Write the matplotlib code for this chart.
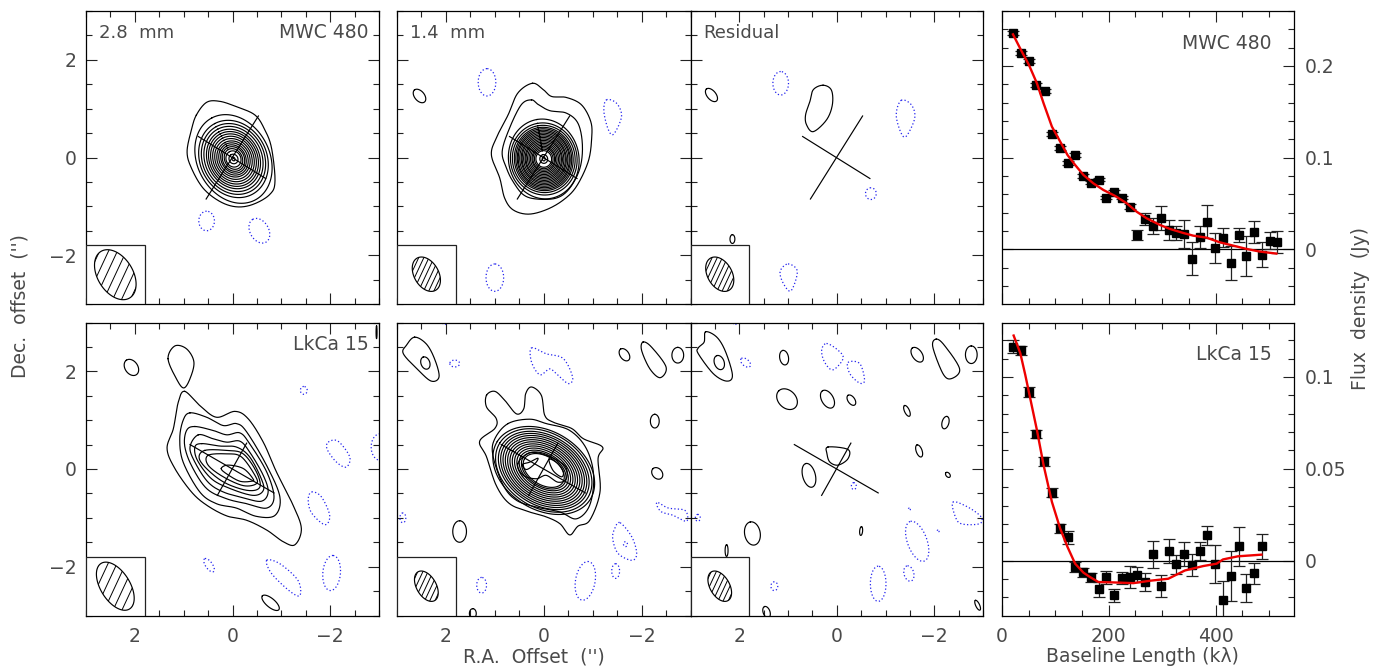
import numpy as np
import matplotlib
matplotlib.use("Agg")
import matplotlib.pyplot as plt
from matplotlib.patches import Polygon, Rectangle
from matplotlib.ticker import MultipleLocator

plt.rcParams['font.family'] = ['DejaVu Sans']
TEXT = '#4a4a4a'
LW = 0.85

# ---------- visibility data ----------
mwc_u = [20.6,35.5,50.5,64,80,93.5,108,123,137,151,166,181,195,210,225,240,253,268,283,298,313,326,341,356,371,384,399,414,429,444,457,472,487,502,515]
mwc_f = [.236,.2145,.2055,.1796,.173,.1258,.1105,.094,.103,.080,.0727,.076,.0564,.0625,.0564,.0465,.0156,.0327,.0255,.034,.021,.0178,.0167,-.0105,.0138,.0298,.0015,.0127,-.015,.0156,-.0073,.0193,-.006,.0095,.008]
mwc_e = [.002,.002,.002,.002,.002,.002,.002,.002,.002,.002,.002,.002,.002,.002,.002,.003,.005,.0065,.009,.0135,.011,.0073,.0155,.018,.012,.018,.016,.0102,.0185,.008,.0218,.012,.0138,.009,.0116]
mwc_model_u = [20.6,35.5,50.5,65.4,77.9,93.5,109,122.7,137,152.6,171,190,212,233.6,252,271,296,314.6,339.6,358,383,408,433,458,483,514]
mwc_model_f = [.2345,.2175,.2011,.1811,.1593,.1338,.1175,.1029,.092,.0811,.072,.0647,.0582,.0502,.0411,.0338,.0265,.0222,.0178,.0149,.0127,.0076,.004,.0004,-.0025,-.0047]

lk_u = [20.6,35.5,50.5,64,79,94,108,123,137,152,167,182,195,210,225,240,253,268,283,298,313,326,341,356,371,384,399,414,429,444,457,472,487]
lk_f = [.1165,.1144,.0918,.0687,.054,.0369,.0176,.0127,-.0033,-.0062,-.0091,-.0156,-.0091,-.0189,-.0093,-.0091,-.0075,-.0116,.0035,-.014,.0051,-.002,.0036,-.0022,.0053,.0138,-.0018,-.0211,-.0084,.0078,-.0149,-.0069,.0078]
lk_e = [.0035,.0024,.0026,.0022,.0022,.0024,.0024,.0036,.0027,.0025,.0025,.004,.0033,.0035,.0033,.006,.004,.005,.0073,.006,.0065,.005,.0065,.006,.0051,.0053,.0102,.01,.0136,.0105,.0075,.0055,.0069]
lk_model_u = [21.8,34.3,43.6,54.2,65.4,77.9,93.5,109,122.7,137,152.6,165,180.7,208.7,246,277,311.5,342.7,377,402,414,442,486]
lk_model_f = [.1225,.1129,.1011,.0865,.0711,.052,.032,.0175,.0075,-.0016,-.0065,-.0089,-.0116,-.0118,-.0122,-.0109,-.0098,-.0053,-.0029,-.0016,.0007,.0024,.0033]

# ---------- cross axes (arcsec) ----------
cross_mwc = [((.70,.43),(-.68,-.43)), ((-.53,.85),(.54,-.85))]
cross_lk = [((.87,.50),(-.85,-.49)), ((-.29,.53),(.31,-.54))]

# ---------- MWC 480, 2.8 mm ----------
p1_out = [[(.74,.87),(.53,1.13),(.26,1.15),(-.08,1.04),(-.46,.87),(-.66,.57),(-.80,.19),(-.87,-.49),(-.76,-.76),(-.42,-.96),(-.08,-1.01),(.26,-.90),(.60,-.63),(.84,-.22),(.93,.12),(.84,.57)]]
p1_rings = [(.95,.74),(.82,.68),(.75,.63),(.69,.58),(.63,.53),(.58,.49),(.53,.45),(.48,.41),(.43,.37),(.38,.33),(.34,.29),(.30,.25),(.26,.22),(.22,.18),(.17,.15),(.10,.09),(.04,.03)]
p1_blue = [(.53,-1.30,.20,.16,0),(-.55,-1.50,.27,.19,30)]

# ---------- MWC 480, 1.4 mm ----------
p2_out = [
 [(.23,1.52),(.01,1.39),(-.16,1.25),(-.46,1.23),(-.77,1.08),(-.96,.74),(-.98,.40),(-.91,-.08),(-.67,-.59),(-.40,-.87),(-.05,-1.07),(.32,-1.16),(.63,-1.07),(.80,-.83),(.90,-.42),(1.07,.05),(.97,.40),(.73,.87),(.53,1.32)],
 [(.25,1.18),(.12,1.09),(-.12,.96),(-.46,.91),(-.70,.70),(-.79,.26),(-.74,-.22),(-.53,-.63),(-.26,-.83),(.15,-.85),(.42,-.76),(.63,-.49),(.76,-.22),(.85,.12),(.70,.60),(.46,1.08)],
]
p2_rings = [(.82,.72),(.74,.68),(.69,.64),(.65,.60),(.62,.57),(.59,.54),(.56,.52),(.53,.49),(.50,.46),(.47,.44),(.44,.41),(.41,.38),(.38,.36),(.35,.33),(.32,.30),(.29,.27),(.26,.24),(.23,.22),(.20,.19),(.17,.16),(.09,.08),(.04,.03)]
p2_black = [(2.54,1.26,.16,.10,40)]
p2_blue_poly = [[(-1.28,1.18),(-1.49,1.11),(-1.59,.84),(-1.43,.48),(-1.32,.57),(-1.23,.94)]]
p2_blue = [(1.16,1.54,.28,.18,0),(1.0,-2.46,.28,.18,0)]

# ---------- MWC 480, residual ----------
p3_out = [[(.28,1.48),(.11,1.38),(.09,1.08),(.21,.77),(.48,.53),(.62,.67),(.64,.87),(.55,1.15),(.48,1.39)]]
p3_black = [(2.57,1.28,.16,.09,40),(2.14,-1.67,.09,.05,0)]
p3_blue_poly = [[(-1.32,1.17),(-1.53,1.08),(-1.60,.81),(-1.43,.44),(-1.32,.50),(-1.22,.87)],
                [(1.0,-2.18),(.81,-2.33),(.94,-2.73),(1.10,-2.57),(1.16,-2.33)]]
p3_blue = [(1.15,1.52,.24,.16,0),(-.70,-.74,.12,.11,0)]

# ---------- LkCa 15, 2.8 mm ----------
p4_out = [
 [(.98,1.59),(.67,1.30),(.33,1.06),(-.05,1.18),(-.32,1.03),(-.63,.55),(-.90,-.06),(-1.24,-.74),(-1.41,-1.22),(-1.28,-1.55),(-1.04,-1.49),(-.70,-1.25),(-.29,-1.05),(.12,-.96),(.53,-.74),(.84,-.47),(1.18,.01),(1.34,.42),(1.21,.83),(1.11,1.37)],
 [(.87,1.15),(.53,1.06),(.19,.89),(-.08,.93),(-.29,.76),(-.70,.07),(-.97,-.57),(-.87,-.95),(-.49,-.97),(-.08,-.80),(.33,-.71),(.67,-.47),(1.01,.14),(1.08,.62),(1.01,1.0)],
 [(.77,.87),(.40,.79),(.12,.70),(-.15,.74),(-.35,.52),(-.70,-.06),(-.85,-.57),(-.70,-.80),(-.29,-.71),(.12,-.61),(.53,-.40),(.84,.07),(.98,.48),(.94,.79)],
 [(.70,.70),(.40,.62),(.12,.55),(-.15,.57),(-.35,.35),(-.63,-.13),(-.73,-.47),(-.59,-.66),(-.22,-.59),(.19,-.47),(.50,-.27),(.77,.14),(.87,.45)],
 [(.63,.52),(.26,.47),(-.08,.45),(-.35,.25),(-.59,-.20),(-.63,-.44),(-.42,-.54),(.05,-.40),(.43,-.20),(.72,.18),(.77,.45)],
 [(.57,.38),(.12,.38),(-.22,.31),(-.49,-.06),(-.56,-.37),(-.32,-.44),(.12,-.30),(.46,-.06),(.68,.21)],
 [(.50,.28),(.12,.31),(-.18,.25),(-.46,-.13),(-.49,-.30),(-.22,-.34),(.19,-.16),(.50,.08)],
 [(.23,.01),(.09,.08),(-.22,.01),(-.42,-.20),(-.39,-.25),(-.15,-.25),(.12,-.10)],
 [(1.32,2.26),(1.18,2.52),(.94,2.46),(.79,2.19),(.87,1.85),(1.0,1.66),(1.15,1.85)],
]
p4_black = [(2.07,2.08,.18,.13,35),(-.78,-2.74,.22,.09,50),(-2.95,2.8,.13,.01,0)]
p4_blue_poly = [[(-1.96,.55),(-2.16,.57),(-2.40,.25),(-2.33,.04),(-2.13,.14),(-1.94,.40)],
                [(-1.62,-.47),(-1.82,-.57),(-1.99,-.95),(-1.89,-1.14),(-1.62,-.90),(-1.55,-.63)],
                [(-.70,-1.87),(-.97,-1.94),(-1.34,-2.28),(-1.38,-2.59),(-1.17,-2.50),(-.80,-2.14)]]
p4_blue = [(-1.46,1.61,.08,.07,0),(-3.02,.45,.27,.18,0),(.48,-1.97,.16,.07,35),(-2.03,-2.13,.36,.18,-5)]

# ---------- LkCa 15, 1.4 mm ----------
p5_out = [
 [(1.17,1.51),(1.00,1.59),(.80,1.41),(.56,1.13),(.41,1.23),(.37,1.54),(.25,1.68),(.05,1.51),(-.02,1.10),(-.19,.96),(-.57,.83),(-.81,.62),(-1.20,.45),(-1.11,.21),(-1.15,-.47),(-.94,-1.05),(-.70,-1.17),(-.53,-1.35),(-.33,-1.12),(-.05,-.98),(.29,-.88),(.70,-.71),(.97,-.34),(1.17,.25),(1.31,.57),(1.0,.83),(.97,1.03),(1.17,1.27)],
 [(.73,.93),(.29,1.02),(-.05,.93),(-.53,.79),(-.87,.42),(-1.02,-.13),(-.94,-.74),(-.67,-1.02),(-.33,-.88),(.15,-.78),(.56,-.64),(.83,-.33),(1.04,.28),(1.0,.62)],
 [(.53,.11),(.29,.33),(-.05,.28),(-.43,.07),(-.46,-.20),(-.29,-.27),(-.05,-.13),(.15,-.20),(.42,-.13)],
 [(.44,.09),(.29,.14),(.12,.22),(.18,.11),(.35,-.01)],
 [(-.11,.20),(-.29,.11),(-.40,-.06),(-.36,-.16),(-.19,-.03)],
 [(2.64,2.70),(2.40,2.56),(2.23,2.25),(2.14,1.89),(2.30,1.80),(2.57,2.03),(2.87,2.36),(2.81,2.53)],
 [(-2.03,2.60),(-2.20,2.50),(-2.50,2.09),(-2.38,1.87),(-2.17,2.05),(-2.0,2.43)],
]
p5_rings = [(1.12,.80),(1.06,.76),(1.0,.71),(.95,.67),(.90,.63),(.85,.59),(.80,.55),(.75,.51),(.70,.47),(.65,.43),(.60,.39),(.55,.35),(.50,.32),(.46,.29)]
p5_black = [(2.42,2.17,.13,.09,20),(-1.65,2.34,.14,.09,35),(-2.74,2.33,.16,.12,0),(-2.27,.98,.14,.09,0),(-2.32,-.09,.13,.10,40),(1.72,-1.28,.22,.14,0),(1.45,-2.96,.10,.07,0)]
p5_blue_poly = [[(.25,2.48),(-.05,2.36),(-.40,2.26),(-.59,1.88),(-.50,1.75),(-.26,1.95),(-.12,2.05),(.08,1.93),(.25,2.19)],
                [(-2.34,-.69),(-2.55,-.80),(-2.89,-.85),(-2.92,-1.07),(-2.65,-.95),(-2.41,-.88),(-2.31,-.74)],
                [(-1.56,-1.10),(-1.80,-1.39),(-1.90,-1.73),(-1.80,-1.87),(-1.52,-1.73),(-1.41,-1.43),(-1.45,-1.22)]]
p5_blue = [(2.88,-1.0,.10,.06,0),(1.82,2.16,.10,.07,90),(2.03,3.0,.05,.03,0),(-1.67,-1.54,.05,.04,0),(-1.47,-2.09,.15,.08,0),(-.85,-2.29,.40,.20,-10),(1.27,-2.38,.16,.10,0)]

# ---------- LkCa 15, residual ----------
p6_out = [
 [(2.69,2.81),(2.46,2.70),(2.28,2.40),(2.14,1.92),(2.26,1.80),(2.53,1.95),(2.84,2.36),(2.84,2.48),(2.72,2.60)],
 [(-2.04,2.66),(-2.21,2.53),(-2.52,2.05),(-2.35,1.85),(-2.18,1.95),(-1.97,2.50)],
 [(.18,.45),(-.23,.40),(-.23,.21),(-.03,.08),(.14,.14),(.20,.31)],
]
p6_black = [(2.41,2.18,.15,.10,20),(1.08,2.28,.15,.09,10),(1.02,1.43,.24,.18,45),(.19,1.43,.20,.12,30),(-.30,1.41,.12,.07,35),(-1.44,1.19,.12,.05,25),(-2.23,.95,.13,.07,-15),(-1.69,.37,.13,.06,20),(-2.28,-.12,.06,.04,40),(-.50,-1.27,.09,.03,-5),(2.26,-1.67,.12,.03,0),(1.73,-1.32,.24,.16,10),(1.44,-2.93,.12,.07,20),(-2.89,-2.79,.11,.04,25),(-1.65,2.34,.17,.10,35),(-2.76,2.34,.18,.12,0),(.57,-.13,.25,.13,15)]
p6_blue_poly = [[(.21,2.57),(-.03,2.43),(-.13,2.26),(.08,2.03),(.25,2.19),(.31,2.43)],
                [(-.23,2.18),(-.47,2.16),(-.57,1.82),(-.47,1.76),(-.27,1.95)],
                [(-2.38,-.68),(-2.69,-.78),(-2.96,-.98),(-2.93,-1.12),(-2.59,-1.13),(-2.45,-1.02)]]
p6_blue = [(1.87,2.18,.12,.07,50),(2.09,3.0,.05,.03,0),(-.35,-.35,.07,.05,0),(2.85,-1.0,.07,.05,0),(1.28,-2.40,.09,.07,0),(-.85,-2.35,.36,.16,0),(-1.48,-2.14,.16,.10,15),(-1.65,-1.48,.43,.20,20),(-1.49,-.82,.02,.02,0),(-2.08,-1.27,.02,.02,0)]

# ---------- panel definitions ----------
PANELS = [
 dict(out=p1_out, rings=p1_rings, rc=(-.02,-.03), rpa=28, black=[], bpoly=[], blue=p1_blue, cross=cross_mwc, beam=(2.40,-2.40,.56,.36,32), hs=.165, left='2.8 mm', right='MWC 480'),
 dict(out=p2_out, rings=p2_rings, rc=(0,-.03), rpa=10, black=p2_black, bpoly=p2_blue_poly, blue=p2_blue, cross=cross_mwc, beam=(2.40,-2.39,.38,.25,30), hs=.095, left='1.4 mm', right=None),
 dict(out=p3_out, rings=[], rc=(0,0), rpa=0, black=p3_black, bpoly=p3_blue_poly, blue=p3_blue, cross=cross_mwc, beam=(2.40,-2.39,.38,.25,30), hs=.095, left='Residual', right=None),
 dict(out=p4_out, rings=[], rc=(0,0), rpa=0, black=p4_black, bpoly=p4_blue_poly, blue=p4_blue, cross=cross_lk, beam=(2.40,-2.40,.55,.30,32), hs=.165, left=None, right='LkCa 15'),
 dict(out=p5_out, rings=p5_rings, rc=(0,-.03), rpa=58, black=p5_black, bpoly=p5_blue_poly, blue=p5_blue, cross=cross_lk, beam=(2.40,-2.40,.34,.20,30), hs=.095, left=None, right=None),
 dict(out=p6_out, rings=[], rc=(0,0), rpa=0, black=p6_black, bpoly=p6_blue_poly, blue=p6_blue, cross=cross_lk, beam=(2.40,-2.40,.34,.20,30), hs=.095, left=None, right=None),
]

W, H = 1383, 668
fig = plt.figure(figsize=(W/100, H/100), dpi=100, facecolor='white')

def pax(x0, y0, x1, y1):
    return fig.add_axes([x0/W, 1-y1/H, (x1-x0)/W, (y1-y0)/H])

def smooth(pts, n=24):
    p = np.array(pts, float)
    out = []
    for i in range(len(p)):
        p0, p1, p2, p3 = p[i-1], p[i], p[(i+1) % len(p)], p[(i+2) % len(p)]
        t = np.linspace(0, 1, n, endpoint=False)[:, None]
        out.append(.5*((2*p1)+(-p0+p2)*t+(2*p0-5*p1+4*p2-p3)*t**2+(-p0+3*p1-3*p2+p3)*t**3))
    out = np.vstack(out)
    return np.vstack([out, out[:1]])

def ellipse(x, y, a, b, pa):
    t = np.linspace(0, 2*np.pi, 120)
    r = np.radians(pa)
    mx, my = np.sin(r), np.cos(r)
    nx, ny = np.cos(r), -np.sin(r)
    return x+a*np.cos(t)*mx+b*np.sin(t)*nx, y+a*np.cos(t)*my+b*np.sin(t)*ny

BLUE_KW = dict(color='#2222ee', lw=.9, ls=(0, (1, 1.8)))
BLK_KW = dict(color='black', lw=LW)

def style_ticks(ax):
    ax.tick_params(which='major', direction='in', length=8, width=.8, top=True, right=True, color='#222222', labelsize=13.5, labelcolor=TEXT)
    ax.tick_params(which='minor', direction='in', length=4, width=.8, top=True, right=True, color='#222222')
    for s in ax.spines.values():
        s.set_linewidth(.9)

def draw_map(ax, P):
    ax.set_xlim(3, -3); ax.set_ylim(-3, 3)
    ax.xaxis.set_major_locator(MultipleLocator(2)); ax.xaxis.set_minor_locator(MultipleLocator(.5))
    ax.yaxis.set_major_locator(MultipleLocator(2)); ax.yaxis.set_minor_locator(MultipleLocator(.5))
    style_ticks(ax)
    for o in P['out']:
        c = smooth(o); ax.plot(c[:, 0], c[:, 1], **BLK_KW)
    for a, b in P['rings']:
        ax.plot(*ellipse(P['rc'][0], P['rc'][1], a, b, P['rpa']), **BLK_KW)
    for e in P['black']:
        ax.plot(*ellipse(*e), **BLK_KW)
    for o in P['bpoly']:
        c = smooth(o); ax.plot(c[:, 0], c[:, 1], **BLUE_KW)
    for e in P['blue']:
        ax.plot(*ellipse(*e), **BLUE_KW)
    for (x0, y0), (x1, y1) in P['cross']:
        ax.plot([x0, x1], [y0, y1], color='black', lw=LW)
    ax.add_patch(Rectangle((1.8, -3), 1.2, 1.2, fc='white', ec='#222222', lw=.9, zorder=4))
    bx, by, ba, bb, bpa = P['beam']
    ex, ey = ellipse(bx, by, ba, bb, bpa)
    poly = Polygon(np.c_[ex, ey], closed=True, fc='white', ec='black', lw=LW, zorder=5)
    ax.add_patch(poly)
    ang = np.radians(65)
    d = np.array([-np.cos(ang), np.sin(ang)]); n = np.array([np.sin(ang), np.cos(ang)])
    for k in range(-8, 9):
        c0 = np.array([bx, by])+k*P['hs']*n
        ln, = ax.plot([c0[0]-d[0], c0[0]+d[0]], [c0[1]-d[1], c0[1]+d[1]], color='black', lw=.7, zorder=5)
        ln.set_clip_path(poly)
    if P['left']:
        ax.text(2.74, 2.55, P['left'].replace(' ', '  '), ha='left', va='center', fontsize=13, color=TEXT)
    if P['right']:
        ax.text(-2.78, 2.55, P['right'], ha='right', va='center', fontsize=13.5, color=TEXT)

COL_X = [(86, 379), (397, 690.5), (690.5, 983)]
ROW_Y = [(11, 304), (322.5, 615.5)]
for i, P in enumerate(PANELS):
    r, c = divmod(i, 3)
    ax = pax(COL_X[c][0], ROW_Y[r][0], COL_X[c][1], ROW_Y[r][1])
    draw_map(ax, P)
    ax.set_xticks([2, 0, -2])
    ax.set_yticks([-2, 0, 2])
    ax.tick_params(axis='x', labelbottom=(r == 1), pad=8)
    ax.tick_params(axis='y', labelleft=(c == 0), pad=7)

def draw_vis(ax, u, f, e, mu, mf, ylim, major, minor, ylabels, name, ny):
    ax.set_xlim(0, 547); ax.set_ylim(*ylim)
    ax.xaxis.set_major_locator(MultipleLocator(200)); ax.xaxis.set_minor_locator(MultipleLocator(50))
    ax.yaxis.set_major_locator(MultipleLocator(major)); ax.yaxis.set_minor_locator(MultipleLocator(minor))
    style_ticks(ax)
    ax.axhline(0, color='black', lw=.9)
    ax.errorbar(u, f, yerr=e, fmt='s', ms=5.6, mfc='black', mec='black', ecolor='#222222', elinewidth=.9, capsize=4.2, capthick=.9, zorder=3)
    ax.plot(mu, mf, color='#ee0000', lw=1.7, zorder=4)
    ax.set_yticks(list(ylabels))
    ax.set_yticklabels(list(ylabels.values()))
    ax.tick_params(axis='y', labelleft=False, labelright=True, pad=8)
    ax.text(505, ny, name, ha='right', va='center', fontsize=13.5, color=TEXT)

ax = pax(1002, 11, 1294, 304)
draw_vis(ax, mwc_u, mwc_f, mwc_e, mwc_model_u, mwc_model_f, (-.0597, .26), .1, .02, {0: '0', .1: '0.1', .2: '0.2'}, 'MWC 480', .225)
ax.set_xticks([0, 200, 400]); ax.tick_params(axis='x', labelbottom=False)

ax = pax(1002, 322.5, 1294, 615.5)
draw_vis(ax, lk_u, lk_f, lk_e, lk_model_u, lk_model_f, (-.0298, .1296), .05, .01, {0: '0', .05: '0.05', .1: '0.1'}, 'LkCa 15', .112)
ax.set_xticks([0, 200, 400]); ax.tick_params(axis='x', pad=8)

def figtext(x, y, s, **kw):
    fig.text(x/W, 1-y/H, s, fontsize=13.5, color=TEXT, ha='center', va='center', **kw)

figtext(20, 306, "Dec.  offset  ('')", rotation=90)
figtext(534, 657, "R.A.  Offset  ('')")
figtext(1142, 657, "Baseline Length (k\u03bb)")
figtext(1360, 309, "Flux  density  (Jy)", rotation=90)

fig.savefig('out.png', dpi=100)
